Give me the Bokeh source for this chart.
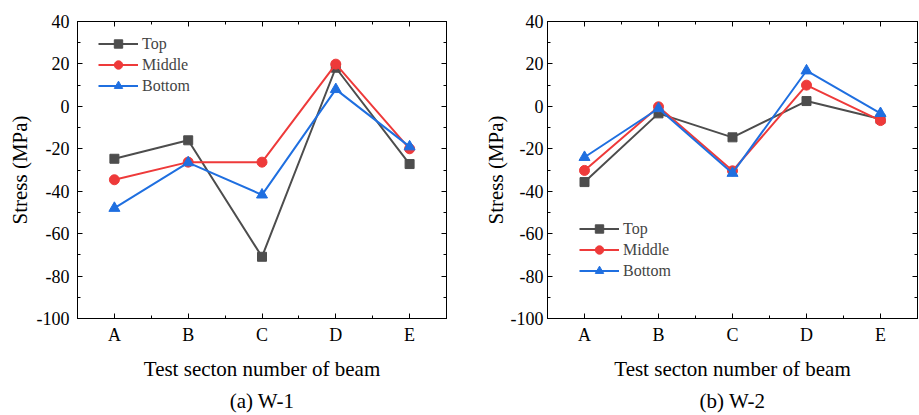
from bokeh.plotting import figure
from bokeh.layouts import row
from bokeh.models import (LinearAxis, FixedTicker, Range1d, Legend, LegendItem)
from bokeh.embed import file_html
from bokeh.resources import INLINE

sections = ["A", "B", "C", "D", "E"]
series_names = ["Top", "Middle", "Bottom"]

w1_top = [-24.7, -16.0, -70.9, 18.2, -27.2]
w1_middle = [-34.6, -26.3, -26.3, 19.9, -20.0]
w1_bottom = [-48.0, -26.5, -41.7, 8.0, -19.0]

w2_top = [-35.7, -3.3, -14.6, 2.5, -6.0]
w2_middle = [-30.2, -0.2, -30.4, 10.0, -6.7]
w2_bottom = [-24.0, -1.0, -31.5, 16.8, -3.3]

y_ticks = [-100, -80, -60, -40, -20, 0, 20, 40]
y_tick_labels = ["-100", "-80", "-60", "-40", "-20", "0", "20", "40"]
x_title = "Test secton number of beam"
y_title = "Stress (MPa)"
captions = ["(a) W-1", "(b) W-2"]

FONT = "Liberation Serif"
colors = ["#4d4d4d", "#ee3a3a", "#1f6fe0"]
markers = ["square", "circle", "triangle"]
msizes = [9, 10, 11]


def make_panel(data, caption, width, bl, br, legend_loc, tick_sd, lab_sd):
    p = figure(width=width, height=415, output_backend="svg", toolbar_location=None,
               x_range=Range1d(-0.5, 4.5), y_range=Range1d(-100, 40),
               min_border_left=bl, min_border_right=br, min_border_top=21,
               min_border_bottom=96)
    p.xgrid.visible = False
    p.ygrid.visible = False
    p.outline_line_color = "black"
    p.outline_line_width = 1
    p.background_fill_color = "white"
    p.border_fill_color = "white"

    xs = list(range(len(sections)))
    items = []
    for name, vals, c, m, s in zip(series_names, data, colors, markers, msizes):
        r1 = p.line(xs, vals, line_color=c, line_width=2)
        r2 = p.scatter(xs, vals, marker=m, size=s, fill_color=c, line_color=c)
        items.append(LegendItem(label=name, renderers=[r1, r2]))

    xt = FixedTicker(ticks=xs, minor_ticks=[-0.5, 0.5, 1.5, 2.5, 3.5, 4.5])
    yt = FixedTicker(ticks=y_ticks, minor_ticks=list(range(-100, 41, 10)))

    xa = p.xaxis[0]
    xa.ticker = xt
    xa.major_label_overrides = {i: s for i, s in enumerate(sections)}
    xa.axis_label = x_title
    ya = p.yaxis[0]
    ya.ticker = yt
    ya.major_label_overrides = {v: s for v, s in zip(y_ticks, y_tick_labels)}
    ya.axis_label = y_title

    top = LinearAxis(ticker=xt, major_label_text_font_size="0px")
    right = LinearAxis(ticker=yt, major_label_text_font_size="0px")
    p.add_layout(top, "above")
    p.add_layout(right, "right")

    for ax in [xa, ya, top, right]:
        ax.axis_line_color = "black"
        ax.axis_line_width = 1
        ax.major_tick_in = 5
        ax.major_tick_out = 0
        ax.minor_tick_in = 3
        ax.minor_tick_out = 0
        ax.major_tick_line_color = "black"
        ax.minor_tick_line_color = "black"
        ax.major_label_text_font = FONT
        ax.major_label_text_color = "black"
        ax.axis_label_text_font = FONT
        ax.axis_label_text_font_style = "normal"
        ax.axis_label_text_color = "black"
        ax.axis_label_text_font_size = "21px"
    for ax in [xa, ya]:
        ax.major_label_text_font_size = "18px"
    top.major_label_standoff = 0
    right.major_label_standoff = 0
    xa.major_label_standoff = 6
    xa.axis_label_standoff = 9
    ya.major_label_standoff = tick_sd
    ya.axis_label_standoff = lab_sd

    # caption drawn as the label of a tick-less axis under the x axis
    cap_ax = LinearAxis(ticker=FixedTicker(ticks=[]), axis_label=caption,
                        axis_line_alpha=0, major_tick_in=0, major_tick_out=0,
                        minor_tick_in=0, minor_tick_out=0, major_label_standoff=0,
                        axis_label_standoff=5, axis_label_text_font=FONT,
                        axis_label_text_font_style="normal",
                        axis_label_text_font_size="21px", axis_label_text_color="black")
    p.add_layout(cap_ax, "below")

    leg = Legend(items=items, location=legend_loc, label_text_font=FONT,
                 label_text_font_size="16px", glyph_width=40, glyph_height=21,
                 label_height=21, label_standoff=4, spacing=0, padding=0, margin=0,
                 border_line_alpha=0, background_fill_alpha=0)
    p.add_layout(leg)
    return p


p1 = make_panel([w1_top, w1_middle, w1_bottom], captions[0], 460, 77, 14, (21, 222), 8, 2)
p2 = make_panel([w2_top, w2_middle, w2_bottom], captions[1], 459, 87, 2, (32, 37), 4, 0)

layout = row(p1, p2, spacing=0)
open("out.html", "w").write(file_html(layout, INLINE))
